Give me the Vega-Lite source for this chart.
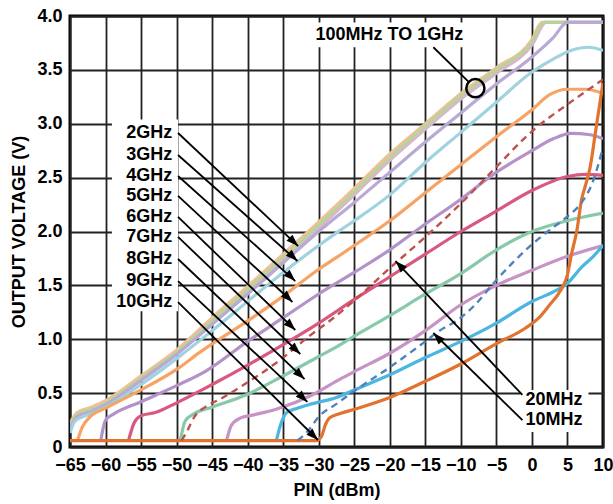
{
  "$schema": "https://vega.github.io/schema/vega-lite/v6.json",
  "width": 533,
  "height": 431,
  "autosize": {"type": "none"},
  "padding": {"left": 70, "top": 16, "right": 10, "bottom": 57},
  "background": "white",
  "config": {
    "view": {"stroke": "#000000", "strokeWidth": 3},
    "font": "Liberation Sans",
    "axis": {
      "grid": true, "gridColor": "#222222", "gridWidth": 1.8, "gridOpacity": 1,
      "ticks": false, "domain": false,
      "labelFont": "Liberation Sans", "labelFontSize": 18, "labelFontWeight": "bold", "labelColor": "#000000",
      "titleFont": "Liberation Sans", "titleFontSize": 18, "titleFontWeight": "bold", "titleColor": "#000000"
    }
  },
  "encoding": {
    "x": {
      "field": "pin", "type": "quantitative",
      "scale": {"domain": [-65, 10], "nice": false, "zero": false},
      "axis": {"values": [-65, -60, -55, -50, -45, -40, -35, -30, -25, -20, -15, -10, -5, 0, 5, 10], "title": "PIN (dBm)", "labelPadding": 9, "titlePadding": 7, "labelFlush": false, "labelOverlap": false}
    },
    "y": {
      "field": "v", "type": "quantitative",
      "scale": {"domain": [0, 4], "nice": false, "zero": false},
      "axis": {"values": [0, 0.5, 1, 1.5, 2, 2.5, 3, 3.5, 4], "title": "OUTPUT VOLTAGE (V)", "labelExpr": "datum.value == 0 ? '0' : format(datum.value, '.1f')", "labelPadding": 8, "titlePadding": 8, "labelOverlap": false}
    }
  },
  "datasets": {
    "curves": [
      {"series": "500MHz", "pin": -65, "v": 0.18}, {"series": "500MHz", "pin": -64, "v": 0.28}, {"series": "500MHz", "pin": -62, "v": 0.33}, {"series": "500MHz", "pin": -60, "v": 0.39}, {"series": "500MHz", "pin": -55, "v": 0.62}, {"series": "500MHz", "pin": -50, "v": 0.86}, {"series": "500MHz", "pin": -45, "v": 1.14}, {"series": "500MHz", "pin": -40, "v": 1.43}, {"series": "500MHz", "pin": -35, "v": 1.73}, {"series": "500MHz", "pin": -30, "v": 2.03}, {"series": "500MHz", "pin": -25, "v": 2.34}, {"series": "500MHz", "pin": -20, "v": 2.66}, {"series": "500MHz", "pin": -15, "v": 2.95}, {"series": "500MHz", "pin": -10, "v": 3.23}, {"series": "500MHz", "pin": -5, "v": 3.47}, {"series": "500MHz", "pin": 0, "v": 3.73}, {"series": "500MHz", "pin": 2, "v": 3.94}, {"series": "500MHz", "pin": 10, "v": 3.94},
      {"series": "100MHz", "pin": -65, "v": 0.22}, {"series": "100MHz", "pin": -64, "v": 0.32}, {"series": "100MHz", "pin": -62, "v": 0.37}, {"series": "100MHz", "pin": -60, "v": 0.43}, {"series": "100MHz", "pin": -55, "v": 0.66}, {"series": "100MHz", "pin": -50, "v": 0.9}, {"series": "100MHz", "pin": -45, "v": 1.2}, {"series": "100MHz", "pin": -40, "v": 1.49}, {"series": "100MHz", "pin": -35, "v": 1.79}, {"series": "100MHz", "pin": -30, "v": 2.09}, {"series": "100MHz", "pin": -25, "v": 2.4}, {"series": "100MHz", "pin": -20, "v": 2.72}, {"series": "100MHz", "pin": -15, "v": 3.0}, {"series": "100MHz", "pin": -10, "v": 3.28}, {"series": "100MHz", "pin": -5, "v": 3.52}, {"series": "100MHz", "pin": 0, "v": 3.78}, {"series": "100MHz", "pin": 1.4, "v": 3.94}, {"series": "100MHz", "pin": 10, "v": 3.94},
      {"series": "1GHz", "pin": -65, "v": 0.2}, {"series": "1GHz", "pin": -64, "v": 0.3}, {"series": "1GHz", "pin": -62, "v": 0.35}, {"series": "1GHz", "pin": -60, "v": 0.41}, {"series": "1GHz", "pin": -55, "v": 0.64}, {"series": "1GHz", "pin": -50, "v": 0.88}, {"series": "1GHz", "pin": -45, "v": 1.17}, {"series": "1GHz", "pin": -40, "v": 1.46}, {"series": "1GHz", "pin": -35, "v": 1.76}, {"series": "1GHz", "pin": -30, "v": 2.06}, {"series": "1GHz", "pin": -25, "v": 2.37}, {"series": "1GHz", "pin": -20, "v": 2.69}, {"series": "1GHz", "pin": -15, "v": 2.98}, {"series": "1GHz", "pin": -10, "v": 3.26}, {"series": "1GHz", "pin": -5, "v": 3.5}, {"series": "1GHz", "pin": 0, "v": 3.76}, {"series": "1GHz", "pin": 1.7, "v": 3.94}, {"series": "1GHz", "pin": 10, "v": 3.94},
      {"series": "2GHz", "pin": -65, "v": 0.17}, {"series": "2GHz", "pin": -64, "v": 0.28}, {"series": "2GHz", "pin": -62, "v": 0.33}, {"series": "2GHz", "pin": -60, "v": 0.39}, {"series": "2GHz", "pin": -55, "v": 0.62}, {"series": "2GHz", "pin": -50, "v": 0.86}, {"series": "2GHz", "pin": -45, "v": 1.14}, {"series": "2GHz", "pin": -40, "v": 1.42}, {"series": "2GHz", "pin": -35, "v": 1.71}, {"series": "2GHz", "pin": -30, "v": 2.0}, {"series": "2GHz", "pin": -25, "v": 2.27}, {"series": "2GHz", "pin": -20, "v": 2.55}, {"series": "2GHz", "pin": -15, "v": 2.83}, {"series": "2GHz", "pin": -10, "v": 3.1}, {"series": "2GHz", "pin": -5, "v": 3.37}, {"series": "2GHz", "pin": 0, "v": 3.62}, {"series": "2GHz", "pin": 3, "v": 3.8}, {"series": "2GHz", "pin": 5, "v": 3.94}, {"series": "2GHz", "pin": 10, "v": 3.94},
      {"series": "3GHz", "pin": -65, "v": 0.13}, {"series": "3GHz", "pin": -64.3, "v": 0.24}, {"series": "3GHz", "pin": -62, "v": 0.31}, {"series": "3GHz", "pin": -60, "v": 0.37}, {"series": "3GHz", "pin": -55, "v": 0.58}, {"series": "3GHz", "pin": -50, "v": 0.82}, {"series": "3GHz", "pin": -45, "v": 1.08}, {"series": "3GHz", "pin": -41.5, "v": 1.27}, {"series": "3GHz", "pin": -35, "v": 1.62}, {"series": "3GHz", "pin": -30, "v": 1.87}, {"series": "3GHz", "pin": -27, "v": 2.01}, {"series": "3GHz", "pin": -25, "v": 2.1}, {"series": "3GHz", "pin": -20, "v": 2.34}, {"series": "3GHz", "pin": -15, "v": 2.64}, {"series": "3GHz", "pin": -10, "v": 2.92}, {"series": "3GHz", "pin": -5, "v": 3.2}, {"series": "3GHz", "pin": 0, "v": 3.48}, {"series": "3GHz", "pin": 3, "v": 3.6}, {"series": "3GHz", "pin": 5.5, "v": 3.68}, {"series": "3GHz", "pin": 8, "v": 3.71}, {"series": "3GHz", "pin": 10, "v": 3.68},
      {"series": "4GHz", "pin": -64, "v": 0.05}, {"series": "4GHz", "pin": -63.3, "v": 0.18}, {"series": "4GHz", "pin": -62.2, "v": 0.28}, {"series": "4GHz", "pin": -60, "v": 0.36}, {"series": "4GHz", "pin": -55, "v": 0.53}, {"series": "4GHz", "pin": -50, "v": 0.72}, {"series": "4GHz", "pin": -46.7, "v": 0.88}, {"series": "4GHz", "pin": -40, "v": 1.17}, {"series": "4GHz", "pin": -35, "v": 1.4}, {"series": "4GHz", "pin": -30, "v": 1.65}, {"series": "4GHz", "pin": -27.7, "v": 1.75}, {"series": "4GHz", "pin": -25, "v": 1.87}, {"series": "4GHz", "pin": -20, "v": 2.1}, {"series": "4GHz", "pin": -15, "v": 2.36}, {"series": "4GHz", "pin": -10, "v": 2.62}, {"series": "4GHz", "pin": -5, "v": 2.88}, {"series": "4GHz", "pin": 0, "v": 3.13}, {"series": "4GHz", "pin": 2.5, "v": 3.27}, {"series": "4GHz", "pin": 5, "v": 3.32}, {"series": "4GHz", "pin": 7.5, "v": 3.32}, {"series": "4GHz", "pin": 10, "v": 3.28},
      {"series": "5GHz", "pin": -60.7, "v": 0.05}, {"series": "5GHz", "pin": -60, "v": 0.25}, {"series": "5GHz", "pin": -59, "v": 0.3}, {"series": "5GHz", "pin": -55, "v": 0.42}, {"series": "5GHz", "pin": -50, "v": 0.57}, {"series": "5GHz", "pin": -46, "v": 0.7}, {"series": "5GHz", "pin": -40, "v": 0.98}, {"series": "5GHz", "pin": -35, "v": 1.2}, {"series": "5GHz", "pin": -30, "v": 1.42}, {"series": "5GHz", "pin": -25, "v": 1.62}, {"series": "5GHz", "pin": -20, "v": 1.83}, {"series": "5GHz", "pin": -15, "v": 2.07}, {"series": "5GHz", "pin": -10, "v": 2.3}, {"series": "5GHz", "pin": -5, "v": 2.55}, {"series": "5GHz", "pin": 0, "v": 2.75}, {"series": "5GHz", "pin": 3, "v": 2.86}, {"series": "5GHz", "pin": 5.5, "v": 2.91}, {"series": "5GHz", "pin": 8, "v": 2.9}, {"series": "5GHz", "pin": 10, "v": 2.86},
      {"series": "6GHz", "pin": -56.8, "v": 0.05}, {"series": "6GHz", "pin": -56, "v": 0.22}, {"series": "6GHz", "pin": -55, "v": 0.29}, {"series": "6GHz", "pin": -53, "v": 0.32}, {"series": "6GHz", "pin": -50, "v": 0.41}, {"series": "6GHz", "pin": -45, "v": 0.58}, {"series": "6GHz", "pin": -40, "v": 0.76}, {"series": "6GHz", "pin": -35, "v": 0.95}, {"series": "6GHz", "pin": -30, "v": 1.15}, {"series": "6GHz", "pin": -25, "v": 1.37}, {"series": "6GHz", "pin": -20, "v": 1.58}, {"series": "6GHz", "pin": -15, "v": 1.79}, {"series": "6GHz", "pin": -10, "v": 2.0}, {"series": "6GHz", "pin": -5, "v": 2.19}, {"series": "6GHz", "pin": 0, "v": 2.38}, {"series": "6GHz", "pin": 5, "v": 2.51}, {"series": "6GHz", "pin": 7.5, "v": 2.53}, {"series": "6GHz", "pin": 10, "v": 2.52},
      {"series": "7GHz", "pin": -49.5, "v": 0.05}, {"series": "7GHz", "pin": -48.8, "v": 0.24}, {"series": "7GHz", "pin": -47.5, "v": 0.31}, {"series": "7GHz", "pin": -45, "v": 0.37}, {"series": "7GHz", "pin": -40, "v": 0.49}, {"series": "7GHz", "pin": -35, "v": 0.66}, {"series": "7GHz", "pin": -30, "v": 0.84}, {"series": "7GHz", "pin": -27.5, "v": 0.93}, {"series": "7GHz", "pin": -25, "v": 1.03}, {"series": "7GHz", "pin": -20, "v": 1.22}, {"series": "7GHz", "pin": -15, "v": 1.42}, {"series": "7GHz", "pin": -10, "v": 1.61}, {"series": "7GHz", "pin": -5, "v": 1.83}, {"series": "7GHz", "pin": 0, "v": 2.0}, {"series": "7GHz", "pin": 5, "v": 2.1}, {"series": "7GHz", "pin": 10, "v": 2.17},
      {"series": "8GHz", "pin": -43, "v": 0.05}, {"series": "8GHz", "pin": -42.3, "v": 0.2}, {"series": "8GHz", "pin": -41, "v": 0.27}, {"series": "8GHz", "pin": -39, "v": 0.3}, {"series": "8GHz", "pin": -36, "v": 0.35}, {"series": "8GHz", "pin": -31, "v": 0.48}, {"series": "8GHz", "pin": -27, "v": 0.63}, {"series": "8GHz", "pin": -25, "v": 0.7}, {"series": "8GHz", "pin": -20, "v": 0.87}, {"series": "8GHz", "pin": -15, "v": 1.08}, {"series": "8GHz", "pin": -10, "v": 1.32}, {"series": "8GHz", "pin": -5, "v": 1.5}, {"series": "8GHz", "pin": 0, "v": 1.64}, {"series": "8GHz", "pin": 5, "v": 1.77}, {"series": "8GHz", "pin": 10, "v": 1.87},
      {"series": "9GHz", "pin": -36, "v": 0.05}, {"series": "9GHz", "pin": -35.3, "v": 0.22}, {"series": "9GHz", "pin": -34.5, "v": 0.32}, {"series": "9GHz", "pin": -33, "v": 0.36}, {"series": "9GHz", "pin": -31, "v": 0.4}, {"series": "9GHz", "pin": -27.5, "v": 0.46}, {"series": "9GHz", "pin": -25, "v": 0.53}, {"series": "9GHz", "pin": -20, "v": 0.67}, {"series": "9GHz", "pin": -15, "v": 0.83}, {"series": "9GHz", "pin": -10, "v": 0.98}, {"series": "9GHz", "pin": -5, "v": 1.15}, {"series": "9GHz", "pin": 0, "v": 1.35}, {"series": "9GHz", "pin": 3, "v": 1.44}, {"series": "9GHz", "pin": 5, "v": 1.52}, {"series": "9GHz", "pin": 7, "v": 1.67}, {"series": "9GHz", "pin": 8.5, "v": 1.76}, {"series": "9GHz", "pin": 10, "v": 1.87},
      {"series": "20MHz", "pin": -49.3, "v": 0.06}, {"series": "20MHz", "pin": -48.5, "v": 0.15}, {"series": "20MHz", "pin": -47.5, "v": 0.28}, {"series": "20MHz", "pin": -46, "v": 0.37}, {"series": "20MHz", "pin": -44, "v": 0.44}, {"series": "20MHz", "pin": -40, "v": 0.6}, {"series": "20MHz", "pin": -35, "v": 0.83}, {"series": "20MHz", "pin": -31.5, "v": 1.02}, {"series": "20MHz", "pin": -27.5, "v": 1.22}, {"series": "20MHz", "pin": -25, "v": 1.36}, {"series": "20MHz", "pin": -20, "v": 1.66}, {"series": "20MHz", "pin": -15, "v": 1.95}, {"series": "20MHz", "pin": -10, "v": 2.26}, {"series": "20MHz", "pin": -5, "v": 2.6}, {"series": "20MHz", "pin": 0, "v": 2.93}, {"series": "20MHz", "pin": 5, "v": 3.18}, {"series": "20MHz", "pin": 10, "v": 3.41},
      {"series": "10MHz", "pin": -33, "v": 0.06}, {"series": "10MHz", "pin": -31.5, "v": 0.15}, {"series": "10MHz", "pin": -30, "v": 0.28}, {"series": "10MHz", "pin": -27.5, "v": 0.4}, {"series": "10MHz", "pin": -25, "v": 0.52}, {"series": "10MHz", "pin": -20, "v": 0.74}, {"series": "10MHz", "pin": -15, "v": 0.98}, {"series": "10MHz", "pin": -13.2, "v": 1.07}, {"series": "10MHz", "pin": -10, "v": 1.2}, {"series": "10MHz", "pin": -8, "v": 1.32}, {"series": "10MHz", "pin": -5, "v": 1.55}, {"series": "10MHz", "pin": 0, "v": 1.88}, {"series": "10MHz", "pin": 2.2, "v": 2.0}, {"series": "10MHz", "pin": 5, "v": 2.14}, {"series": "10MHz", "pin": 7, "v": 2.27}, {"series": "10MHz", "pin": 8.5, "v": 2.45}, {"series": "10MHz", "pin": 10, "v": 2.78},
      {"series": "10GHz", "pin": -65, "v": 0.06}, {"series": "10GHz", "pin": -30.3, "v": 0.06}, {"series": "10GHz", "pin": -29.6, "v": 0.1}, {"series": "10GHz", "pin": -29.1, "v": 0.2}, {"series": "10GHz", "pin": -28.5, "v": 0.27}, {"series": "10GHz", "pin": -27, "v": 0.31}, {"series": "10GHz", "pin": -25, "v": 0.35}, {"series": "10GHz", "pin": -20, "v": 0.46}, {"series": "10GHz", "pin": -15, "v": 0.61}, {"series": "10GHz", "pin": -10, "v": 0.77}, {"series": "10GHz", "pin": -5, "v": 0.96}, {"series": "10GHz", "pin": -1, "v": 1.1}, {"series": "10GHz", "pin": 1, "v": 1.2}, {"series": "10GHz", "pin": 2.5, "v": 1.32}, {"series": "10GHz", "pin": 4, "v": 1.45}, {"series": "10GHz", "pin": 5, "v": 1.6}, {"series": "10GHz", "pin": 5.6, "v": 1.8}, {"series": "10GHz", "pin": 6.3, "v": 2.0}, {"series": "10GHz", "pin": 7, "v": 2.3}, {"series": "10GHz", "pin": 7.5, "v": 2.42}, {"series": "10GHz", "pin": 8.2, "v": 2.6}, {"series": "10GHz", "pin": 9, "v": 2.95}, {"series": "10GHz", "pin": 10, "v": 3.38}
    ],
    "arrows": [
      {"label": "2GHz", "dir": "down", "pin": -32.9, "v": 1.865, "pin2": -49.8, "v2": 2.914},
      {"label": "3GHz", "dir": "down", "pin": -33.0, "v": 1.726, "pin2": -49.8, "v2": 2.71},
      {"label": "4GHz", "dir": "down", "pin": -33.3, "v": 1.54, "pin2": -49.8, "v2": 2.515},
      {"label": "5GHz", "dir": "down", "pin": -33.7, "v": 1.346, "pin2": -49.8, "v2": 2.33},
      {"label": "6GHz", "dir": "down", "pin": -33.3, "v": 1.086, "pin2": -49.8, "v2": 2.135},
      {"label": "7GHz", "dir": "down", "pin": -32.6, "v": 0.863, "pin2": -49.8, "v2": 1.95},
      {"label": "8GHz", "dir": "down", "pin": -32.0, "v": 0.63, "pin2": -49.8, "v2": 1.745},
      {"label": "9GHz", "dir": "down", "pin": -31.6, "v": 0.418, "pin2": -49.8, "v2": 1.54},
      {"label": "10GHz", "dir": "down", "pin": -30.1, "v": 0.065, "pin2": -49.8, "v2": 1.345},
      {"label": "20MHz", "dir": "up", "pin": -19.2, "v": 1.726, "pin2": -1.34, "v2": 0.483},
      {"label": "10MHz", "dir": "up", "pin": -13.87, "v": 1.058, "pin2": -1.34, "v2": 0.25}
    ]
  },
  "layer": [
    {
      "data": {"values": [
        {"pin": -59.1, "pin2": -49.8, "v": 1.26, "v2": 3.04},
        {"pin": -30.9, "pin2": -9.2, "v": 3.71, "v2": 3.94},
        {"pin": -1.6, "pin2": 7.96, "v": 0.14, "v2": 0.53}
      ]},
      "mark": {"type": "rect", "fill": "white", "stroke": null},
      "encoding": {"x2": {"field": "pin2"}, "y2": {"field": "v2"}}
    },
    {
      "data": {"name": "curves"},
      "transform": [{"filter": {"not": {"field": "series", "oneOf": ["10MHz", "20MHz"]}}}],
      "mark": {"type": "line", "interpolate": "monotone", "strokeWidth": 3.2, "clip": true},
      "encoding": {
        "color": {"field": "series", "type": "nominal", "legend": null,
          "scale": {"domain": ["500MHz", "100MHz", "1GHz", "2GHz", "3GHz", "4GHz", "5GHz", "6GHz", "7GHz", "8GHz", "9GHz", "20MHz", "10MHz", "10GHz"],
                    "range": ["#dcb4cf", "#f3bf94", "#b9d39c", "#b8a9d5", "#a0d2df", "#f7a365", "#b392c9", "#d8587f", "#88c9aa", "#c793c5", "#4cb6e0", "#c0504d", "#4f81bd", "#e2732f"]}}
      }
    },
    {
      "data": {"name": "curves"},
      "transform": [{"filter": {"field": "series", "oneOf": ["10MHz", "20MHz"]}}],
      "mark": {"type": "line", "interpolate": "monotone", "strokeWidth": 2.4, "strokeDash": [7, 5], "clip": true},
      "encoding": {
        "color": {"field": "series", "type": "nominal", "legend": null,
          "scale": {"domain": ["500MHz", "100MHz", "1GHz", "2GHz", "3GHz", "4GHz", "5GHz", "6GHz", "7GHz", "8GHz", "9GHz", "20MHz", "10MHz", "10GHz"],
                    "range": ["#dcb4cf", "#f3bf94", "#b9d39c", "#b8a9d5", "#a0d2df", "#f7a365", "#b392c9", "#d8587f", "#88c9aa", "#c793c5", "#4cb6e0", "#c0504d", "#4f81bd", "#e2732f"]}}
      }
    },
    {
      "data": {"name": "arrows"},
      "mark": {"type": "rule", "stroke": "#000000", "strokeWidth": 1.8},
      "encoding": {"x2": {"field": "pin2"}, "y2": {"field": "v2"}}
    },
    {
      "data": {"name": "arrows"},
      "transform": [{"filter": {"field": "dir", "equal": "down"}}],
      "mark": {"type": "point", "shape": "M0,0L-0.75,2.1L0.75,2.1Z", "filled": true, "fill": "#000000", "stroke": null, "opacity": 1, "size": 130, "angle": 134}
    },
    {
      "data": {"name": "arrows"},
      "transform": [{"filter": {"field": "dir", "equal": "up"}}],
      "mark": {"type": "point", "shape": "M0,0L-0.75,2.1L0.75,2.1Z", "filled": true, "fill": "#000000", "stroke": null, "opacity": 1, "size": 130, "angle": 316}
    },
    {
      "data": {"values": [
        {"text": "2GHz", "pin": -50.6, "v": 2.914},
        {"text": "3GHz", "pin": -50.6, "v": 2.71},
        {"text": "4GHz", "pin": -50.6, "v": 2.515},
        {"text": "5GHz", "pin": -50.6, "v": 2.33},
        {"text": "6GHz", "pin": -50.6, "v": 2.135},
        {"text": "7GHz", "pin": -50.6, "v": 1.95},
        {"text": "8GHz", "pin": -50.6, "v": 1.745},
        {"text": "9GHz", "pin": -50.6, "v": 1.54},
        {"text": "10GHz", "pin": -50.6, "v": 1.345}
      ]},
      "mark": {"type": "text", "align": "right", "baseline": "middle", "font": "Liberation Sans", "fontSize": 18, "fontWeight": "bold", "fill": "#000000"},
      "encoding": {"text": {"field": "text"}}
    },
    {
      "data": {"values": [{"text": "100MHz TO 1GHz", "pin": -20.07, "v": 3.825}]},
      "mark": {"type": "text", "align": "center", "baseline": "middle", "font": "Liberation Sans", "fontSize": 18, "fontWeight": "bold", "fill": "#000000"},
      "encoding": {"text": {"field": "text"}}
    },
    {
      "data": {"values": [
        {"text": "20MHz", "pin": -0.92, "v": 0.44},
        {"text": "10MHz", "pin": -0.92, "v": 0.25}
      ]},
      "mark": {"type": "text", "align": "left", "baseline": "middle", "font": "Liberation Sans", "fontSize": 18, "fontWeight": "bold", "fill": "#000000"},
      "encoding": {"text": {"field": "text"}}
    },
    {
      "data": {"values": [{"pin": -13.87, "v": 3.71, "pin2": -8.94, "v2": 3.39}]},
      "mark": {"type": "rule", "stroke": "#000000", "strokeWidth": 1.8},
      "encoding": {"x2": {"field": "pin2"}, "y2": {"field": "v2"}}
    },
    {
      "data": {"values": [{"pin": -7.96, "v": 3.33}]},
      "mark": {"type": "point", "shape": "circle", "filled": false, "stroke": "#000000", "strokeWidth": 2.5, "opacity": 1, "size": 330}
    }
  ]
}
